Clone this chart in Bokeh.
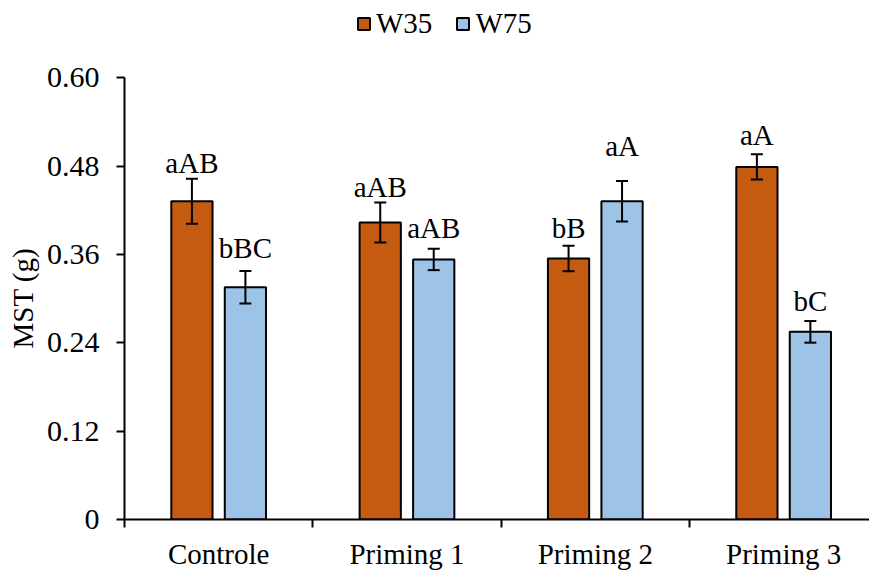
from bokeh.plotting import figure
from bokeh.models import (ColumnDataSource, Range1d, FixedTicker, Whisker, TeeHead,
                          Legend, LegendItem, Title)
from bokeh.core.properties import value
from bokeh.embed import file_html
from bokeh.resources import INLINE

# ---- data ----
categories = ["Controle", "Priming 1", "Priming 2", "Priming 3"]
series_names = ["W35", "W75"]
w35_mean = [0.4326, 0.4036, 0.3547, 0.4792]
w35_err = [0.0306, 0.0272, 0.0173, 0.0173]
w75_mean = [0.3157, 0.3534, 0.4326, 0.2550]
w75_err = [0.0220, 0.0145, 0.0275, 0.0147]
w35_letters = ["aAB", "aAB", "bB", "aA"]
w75_letters = ["bBC", "aAB", "aA", "bC"]
w35_label_y = [0.4683, 0.4353, 0.3796, 0.5060]
w75_label_y = [0.3524, 0.3796, 0.4910, 0.2804]
y_ticks = [0.0, 0.12, 0.24, 0.36, 0.48, 0.60]
y_tick_labels = ["0", "0.12", "0.24", "0.36", "0.48", "0.60"]
y_title = "MST (g)"

FONT = "Liberation Serif"
C35 = "#C55A11"
C75 = "#9DC3E6"
OFF = 0.142
BW = 0.219

centers = [i + 0.5 for i in range(len(categories))]

def make_src(means, errs, letters, label_y, off):
    return ColumnDataSource(dict(
        x=[c + off for c in centers],
        top=means,
        upper=[m + e for m, e in zip(means, errs)],
        lower=[m - e for m, e in zip(means, errs)],
        txt=letters,
        ty=label_y,
    ))

s35 = make_src(w35_mean, w35_err, w35_letters, w35_label_y, -OFF)
s75 = make_src(w75_mean, w75_err, w75_letters, w75_label_y, OFF)

p = figure(frame_width=745, frame_height=519, output_backend="svg", toolbar_location=None,
           x_range=Range1d(0, 3.956), y_range=Range1d(0, 0.7053),
           min_border_left=124, min_border_right=0, min_border_top=0, min_border_bottom=53)
p.outline_line_color = None
p.xgrid.visible = False
p.ygrid.visible = False

r35 = p.vbar(x="x", top="top", width=BW, bottom=0, source=s35, fill_color=C35,
             line_color="black", line_width=2)
r75 = p.vbar(x="x", top="top", width=BW, bottom=0, source=s75, fill_color=C75,
             line_color="black", line_width=2)

for s in (s35, s75):
    w = Whisker(base="x", upper="upper", lower="lower", source=s, level="overlay",
                line_color="black", line_width=2,
                upper_head=TeeHead(size=12, line_width=2, line_color="black"),
                lower_head=TeeHead(size=12, line_width=2, line_color="black"))
    p.add_layout(w)
    p.text(x="x", y="ty", text="txt", source=s, text_align="center",
           text_baseline="alphabetic", y_offset=-12, text_font=value(FONT),
           text_font_size="29px", text_color="black")

# x axis
xa = p.xaxis[0]
xa.ticker = FixedTicker(ticks=centers, minor_ticks=[float(i) for i in range(len(categories) + 1)])
xa.major_label_overrides = {c: n for c, n in zip(centers, categories)}
xa.major_tick_out = 0
xa.major_tick_in = 0
xa.minor_tick_out = 8
xa.minor_tick_in = 0
xa.minor_tick_line_color = "black"
xa.minor_tick_line_width = 2
xa.axis_line_color = "black"
xa.axis_line_width = 2
xa.major_label_text_font = FONT
xa.major_label_text_font_size = "29px"
xa.major_label_text_color = "black"
xa.major_label_standoff = 10

# y axis
ya = p.yaxis[0]
ya.bounds = (y_ticks[0], y_ticks[-1])
ya.ticker = FixedTicker(ticks=y_ticks, minor_ticks=[])
ya.major_label_overrides = {t: l for t, l in zip(y_ticks, y_tick_labels)}
ya.major_tick_out = 8
ya.major_tick_in = 0
ya.major_tick_line_width = 2
ya.major_tick_line_color = "black"
ya.minor_tick_out = 0
ya.minor_tick_in = 0
ya.axis_line_color = "black"
ya.axis_line_width = 2
ya.major_label_text_font = FONT
ya.major_label_text_font_size = "30px"
ya.major_label_text_color = "black"
ya.major_label_standoff = 17

yt = Title(text=y_title, align="left", offset=171, standoff=9,
           text_font=FONT, text_font_size="29px", text_font_style="normal",
           text_color="black")
p.add_layout(yt, "left")

legend = Legend(items=[LegendItem(label=series_names[0], renderers=[r35]),
                       LegendItem(label=series_names[1], renderers=[r75])],
                location=(232, 479), orientation="horizontal",
                glyph_width=15, glyph_height=15, label_standoff=5, spacing=23,
                padding=0, margin=0, border_line_color=None, background_fill_alpha=0,
                label_text_font=FONT, label_text_font_size="29px", label_text_color="black",
                label_height=15)
p.add_layout(legend, "center")

open("out.html", "w").write(file_html(p, INLINE))
